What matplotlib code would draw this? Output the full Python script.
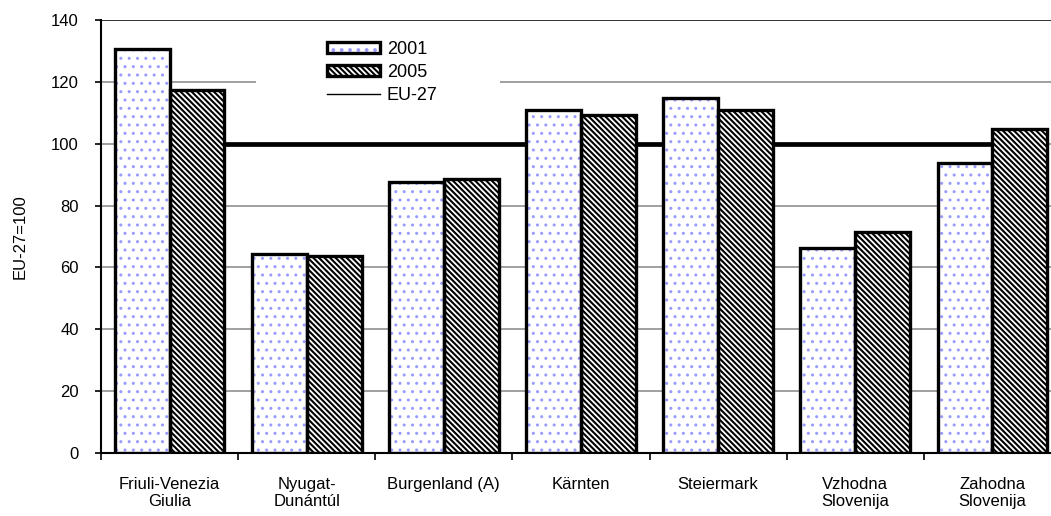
import matplotlib
matplotlib.use("Agg")
import matplotlib.pyplot as plt
from matplotlib.patches import Patch, Rectangle
from matplotlib.lines import Line2D
from matplotlib.legend_handler import HandlerTuple
import numpy as np

regions = ["Friuli-Venezia\nGiulia", "Nyugat-\nDunántúl", "Burgenland (A)", "Kärnten",
           "Steiermark", "Vzhodna\nSlovenija", "Zahodna\nSlovenija"]
values_2001 = [130.6, 64.3, 87.6, 110.9, 114.8, 66.3, 93.8]
values_2005 = [117.4, 63.7, 88.6, 109.3, 110.9, 71.4, 104.8]
eu27 = [100, 100, 100, 100, 100, 100, 100]
yticks = [0, 20, 40, 60, 80, 100, 120, 140]

plt.rcParams['font.family'] = ['Liberation Sans', 'DejaVu Sans']
plt.rcParams['font.size'] = 12

W, H = 1051, 516
fig = plt.figure(figsize=(W / 100, H / 100), dpi=100)
ax = fig.add_axes([101 / W, 63 / H, 960 / W, 433 / H])

x = np.arange(len(regions))
bw = 0.4
dot_color = '#9a9aff'

# gridlines
for t in yticks[1:]:
    ax.axhline(t, color='#222222' if t == 140 else '#999999', lw=1.3, zorder=0)

# white box behind the legend
ax.add_patch(Rectangle((155 / 960, 0.80), 244 / 960, 0.175, transform=ax.transAxes,
                       facecolor='white', edgecolor='none', zorder=0.5))

# EU-27 reference line (behind bars)
ax.plot(x, eu27, color='black', lw=3.4, zorder=1, solid_capstyle='butt')

plt.rcParams['hatch.linewidth'] = 1.0
ax.bar(x - bw / 2, values_2001, bw, facecolor='white', edgecolor=dot_color,
       hatch='..', linewidth=0, zorder=2)
dots_h = Patch(facecolor='white', edgecolor=dot_color, hatch='..', linewidth=0)
plt.rcParams['hatch.linewidth'] = 1.5
ax.bar(x + bw / 2, values_2005, bw, facecolor='white', edgecolor='black',
       hatch='\\\\\\\\\\\\', linewidth=0, zorder=2)
stripes_h = Patch(facecolor='white', edgecolor='black', hatch='\\\\\\\\\\\\', linewidth=0)
ax.bar(x - bw / 2, values_2001, bw, fill=False, edgecolor='black', linewidth=2.4, zorder=3)
ax.bar(x + bw / 2, values_2005, bw, fill=False, edgecolor='black', linewidth=2.4, zorder=3)

ax.set_xlim(-0.5, len(regions) - 0.5)
ax.set_ylim(0, 140)
ax.set_yticks(yticks)
ax.set_xticks(x)
ax.set_xticklabels(regions)
ax.set_xticks(np.arange(len(regions) + 1) - 0.5, minor=True)
ax.tick_params(axis='x', which='major', length=0, pad=17)
ax.tick_params(axis='x', which='minor', length=5, width=1.2, direction='out')
ax.tick_params(axis='y', length=4, width=1.2, direction='out', pad=12)
ax.set_ylabel('EU-27=100', labelpad=17)

for s in ['top', 'right']:
    ax.spines[s].set_visible(False)
for s in ['left', 'bottom']:
    ax.spines[s].set_linewidth(1.5)

outline = Patch(facecolor='none', edgecolor='black', linewidth=2.4)
handles = [(dots_h, outline), (stripes_h, outline), Line2D([], [], color='black', lw=1)]
leg = ax.legend(handles, ['2001', '2005', 'EU-27'], handler_map={tuple: HandlerTuple(ndivide=1)},
                loc='upper left', bbox_to_anchor=(210 / 960, 0.99), frameon=False,
                handlelength=2.9, handleheight=0.55, labelspacing=0.35, handletextpad=0.4,
                fontsize=13)
leg.set_zorder(5)

fig.savefig('out.png', dpi=100)
